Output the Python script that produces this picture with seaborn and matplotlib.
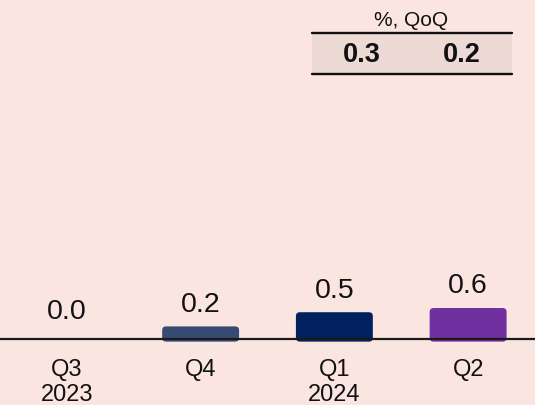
import matplotlib
matplotlib.use("Agg")
import matplotlib.pyplot as plt
import seaborn as sns
from matplotlib.patches import FancyBboxPatch, Rectangle
from matplotlib.lines import Line2D

# data
quarters = ["Q3\n2023", "Q4", "Q1\n2024", "Q2"]
growth = [0.0, 0.24, 0.51, 0.59]
bar_colors = ["#364A73", "#364A73", "#00215E", "#7030A0"]
table_header = "%, QoQ"
table_values = ["0.3", "0.2"]

BG = "#FBE5E1"
BAND = "#EEDAD5"

sns.set_theme(style="white")
plt.rcParams["font.family"] = ["Liberation Sans", "DejaVu Sans"]

fig = plt.figure(figsize=(5.35, 4.06), dpi=100, facecolor=BG)
ax = fig.add_axes([0, 66 / 406, 1, 340 / 406])
ax.set_facecolor(BG)

sns.barplot(
    x=quarters,
    y=growth,
    hue=quarters,
    palette=bar_colors,
    legend=False,
    width=0.575,
    saturation=1,
    ax=ax,
)
ax.set_xlim(-0.5, 3.5)
ax.set_ylim(0, 340 / 52.5)

# swap the plain bars for rounded ones that dip a little under the axis line
bars = list(ax.patches)
for p in bars:
    x0, h, w = p.get_x(), p.get_height(), p.get_width()
    color = p.get_facecolor()
    p.remove()
    if h <= 0:
        continue
    fb = FancyBboxPatch(
        (x0, -0.05), w, h + 0.05,
        boxstyle="round,pad=0,rounding_size=0.03",
        mutation_aspect=2.4,
        facecolor=color, edgecolor="none", clip_on=False, zorder=1,
    )
    ax.add_patch(fb)

for i, v in enumerate(growth):
    ax.annotate(
        f"{v:.1f}", (i, max(v, 0.1)), xytext=(0, 7), textcoords="offset points",
        ha="center", va="bottom", fontsize=20.5, color="#111111",
    )

for s in ["top", "left", "right"]:
    ax.spines[s].set_visible(False)
ax.spines["bottom"].set_color("#1a1a1a")
ax.spines["bottom"].set_linewidth(1.6)
ax.set_yticks([])
ax.tick_params(axis="x", length=0, pad=13.5, labelsize=17, colors="#111111")
for lab in ax.get_xticklabels():
    lab.set_linespacing(1.2)
ax.set_xlabel("")

# small summary table in the top right
def fx(px):
    return px / 535

def fy(py):
    return 1 - py / 406

fig.add_artist(Rectangle((fx(312), fy(74)), fx(512) - fx(312), fy(34) - fy(74),
                         transform=fig.transFigure, facecolor=BAND, edgecolor="none"))
for yy in (33.5, 74.7):
    fig.add_artist(Line2D([fx(312), fx(512)], [fy(yy), fy(yy)],
                          transform=fig.transFigure, color="#111111", lw=1.7))
fig.text(fx(411), fy(20), table_header, ha="center", va="center", fontsize=15, color="#111111")
for xx, t in zip((361.5, 461.5), table_values):
    fig.text(fx(xx), fy(55), t, ha="center", va="center", fontsize=19.5,
             fontweight="bold", color="#111111")

fig.savefig("out.png", dpi=100, facecolor=BG)
